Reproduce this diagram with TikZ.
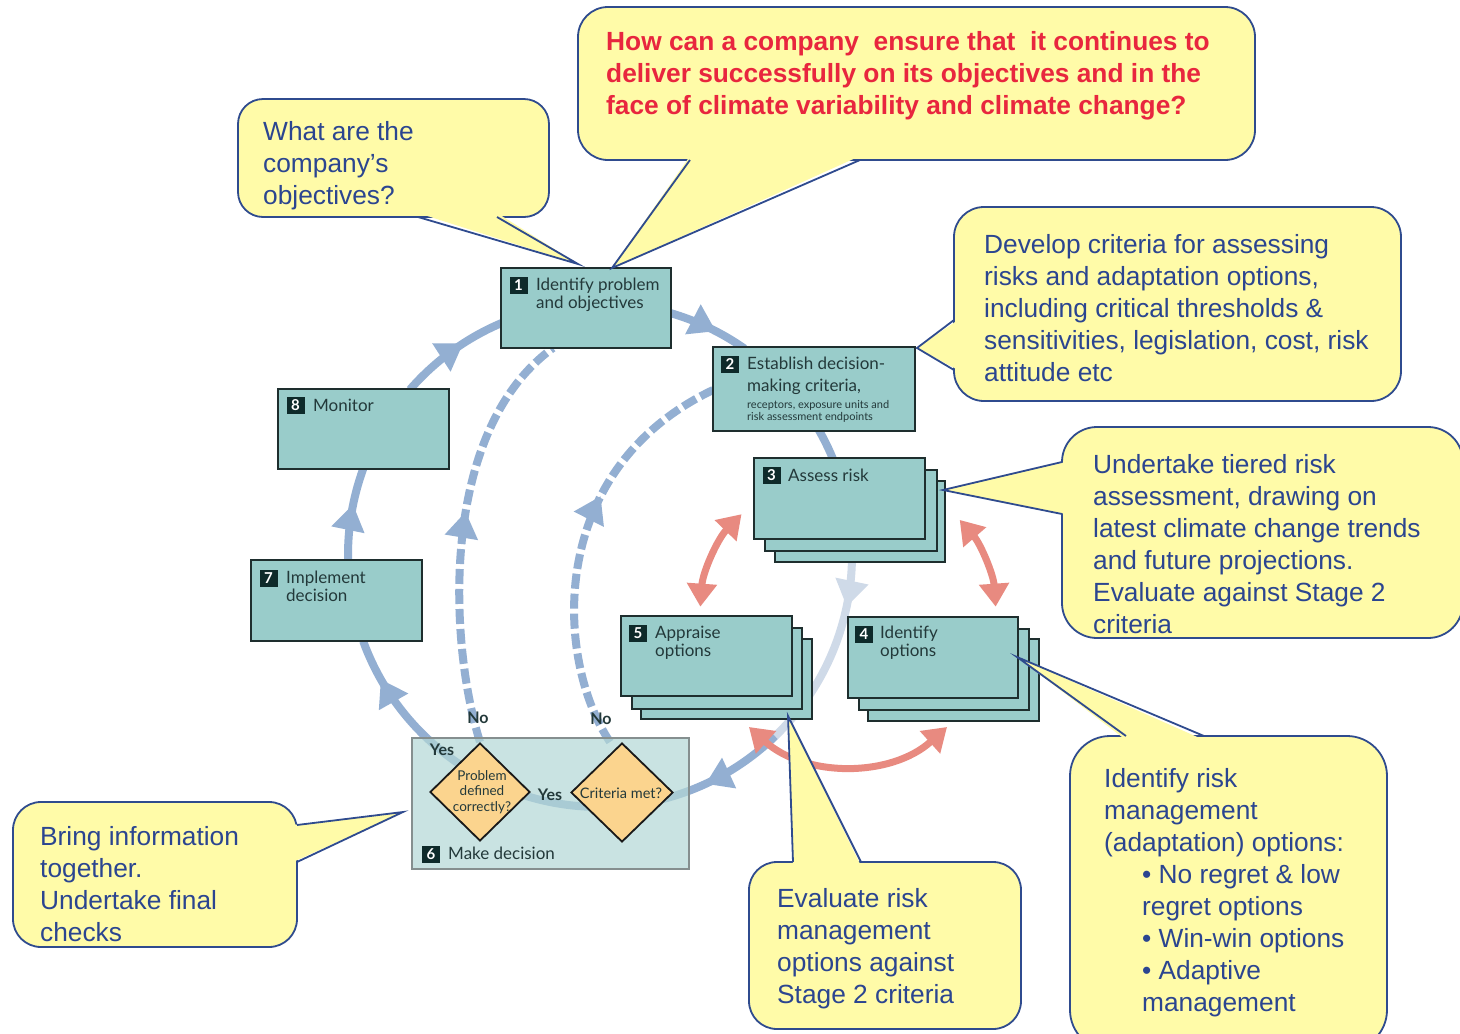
\documentclass[tikz,border=0pt]{standalone}
\usepackage{fontspec}
\setmainfont{Liberation Sans}
\newfontfamily\boxfont{Lato}
\usetikzlibrary{arrows.meta,decorations.markings,shapes.geometric,calc}
\definecolor{tealbox}{HTML}{99CCCA}
\definecolor{boxline}{HTML}{1E2E2E}
\definecolor{numbg}{HTML}{0E2A2A}
\definecolor{boxtext}{HTML}{23393A}
\definecolor{sixfill}{HTML}{B3D8D6}
\definecolor{sixline}{HTML}{858F8F}
\definecolor{diafill}{HTML}{FBD48E}
\definecolor{flowblue}{HTML}{93AFD2}
\definecolor{flowlight}{HTML}{CFDAE8}
\definecolor{redflow}{HTML}{E88A80}
\definecolor{cofill}{HTML}{FFFBA8}
\definecolor{coline}{HTML}{2F4B8E}
\definecolor{cotext}{HTML}{2B4590}
\definecolor{redtext}{HTML}{E8263E}
\begin{document}
\begin{tikzpicture}[x=1pt,y=1pt,
  stage/.style={draw=boxline,line width=1.8pt,fill=tealbox,inner sep=0pt},
  numsq/.style={fill=numbg,text=white,font=\boxfont\bfseries\fontsize{15}{15}\selectfont,minimum width=18pt,minimum height=17pt,inner sep=0pt},
  boxtxt/.style={anchor=north west,inner sep=0pt,align=left,text=boxtext,font=\boxfont\fontsize{17}{17.5}\selectfont},
  cotxt/.style={anchor=north west,inner sep=0pt,align=left,text=cotext,font=\fontsize{26.3}{32}\selectfont},
  cobox/.style={fill=cofill,draw=coline,line width=1.8pt},
  coptr/.style={draw=coline,line width=1.8pt,line join=miter},
  flow/.style={draw=flowblue,line width=8pt},
  midarrow/.style={postaction={decorate},decoration={markings,mark=at position #1 with {\arrow{Triangle[length=26pt,width=32pt]}}}},
  redarc/.style={draw=redflow,line width=7pt,{Triangle[length=23pt,width=29pt]}-{Triangle[length=23pt,width=29pt]}},
  dashflow/.style={draw=flowblue,line width=8pt,dash pattern=on 15pt off 5pt},
  declabel/.style={inner sep=0pt,text=boxtext,font=\boxfont\bfseries\fontsize{16}{16}\selectfont},
  diabox/.style={diamond,draw=black!90,line width=1.8pt,fill=diafill,inner sep=0pt}
]
\useasboundingbox (0,0) rectangle (1460,-1034);
\fill[white] (0,0) rectangle (1460,-1034);

% ---------- main cycle (blue arcs) ----------
\coordinate (C) at (600,-555);
\draw[flow,midarrow=0.62] ($(C)+(139:252)$) arc[start angle=139,end angle=113,radius=252];
\draw[flow,midarrow=0.6] ($(C)+(74:252)$) arc[start angle=74,end angle=55,radius=252];
\draw[flow] ($(C)+(30:252)$) arc[start angle=30,end angle=22,radius=252];
\draw[draw=flowlight,line width=8pt,postaction={decorate},decoration={markings,mark=at position 0.24 with {\arrow{Triangle[length=26pt,width=32pt]}}}] ($(C)+(-1:252)$) arc[start angle=-1,end angle=-46,radius=252];
\draw[flow,midarrow=0.22] ($(C)+(-46:252)$) arc[start angle=-46,end angle=-133.5,radius=252];
\draw[flow,midarrow=0.64] ($(C)+(226.5:252)$) arc[start angle=226.5,end angle=200,radius=252];
\draw[flow,midarrow=0.6] ($(C)+(181:252)$) arc[start angle=181,end angle=160,radius=252];

% ---------- dashed "No" loops ----------
\draw[dashflow,midarrow=0.55] (480,-742) .. controls (448,-640) and (440,-430) .. (553,-348);
\draw[dashflow,midarrow=0.62] (610,-742) .. controls (555,-660) and (545,-470) .. (713,-390);

% ---------- inner red cycle ----------
\coordinate (R0) at (848,-617);
\draw[redarc] ($(R0)+(136:148)$) arc[start angle=136,end angle=176,radius=148];
\draw[redarc] ($(R0)+(41:148)$) arc[start angle=41,end angle=4,radius=148];
\draw[redarc] ($(R0)+(228:148)$) arc[start angle=228,end angle=312,radius=148];

% ---------- stage boxes ----------
\node[stage,minimum width=170pt,minimum height=80pt] (b1) at (586,-308) {};
\node[numsq] (n1) at (518.5,-285) {1};
\node[boxtxt] (t1) at (536,-278) {Identify problem\\and objectives};

\node[stage,minimum width=202pt,minimum height=84pt] (b2) at (814,-389) {};
\node[numsq] (n2) at (730,-364) {2};
\node[boxtxt,font=\boxfont\fontsize{17}{22}\selectfont] (t2) at (747,-357) {Establish decision-\\making criteria,};
\node[boxtxt,font=\boxfont\fontsize{11}{12}\selectfont] (t2b) at (747,-400) {receptors, exposure units and\\risk assessment endpoints};

\node[stage,minimum width=170pt,minimum height=81pt] (b3c) at (860,-521.5) {};
\node[stage,minimum width=172pt,minimum height=81pt] (b3b) at (851,-510.5) {};
\node[stage,minimum width=171pt,minimum height=81pt] (b3) at (839.5,-498.5) {};
\node[numsq] (n3) at (771.5,-475) {3};
\node[boxtxt] (t3) at (788,-469) {Assess risk};

\node[stage,minimum width=171pt,minimum height=80pt] (b5c) at (726.5,-679) {};
\node[stage,minimum width=170pt,minimum height=81pt] (b5b) at (717,-668.5) {};
\node[stage,minimum width=171pt,minimum height=80pt] (b5) at (706.5,-656) {};
\node[numsq] (n5) at (638,-633) {5};
\node[boxtxt,font=\boxfont\fontsize{17}{18}\selectfont] (t5) at (655,-626) {Appraise\\options};

\node[stage,minimum width=171pt,minimum height=82pt] (b4c) at (953.5,-680) {};
\node[stage,minimum width=170pt,minimum height=81pt] (b4b) at (944,-669.5) {};
\node[stage,minimum width=170pt,minimum height=81pt] (b4) at (933,-657.5) {};
\node[numsq] (n4) at (864,-634) {4};
\node[boxtxt,font=\boxfont\fontsize{17}{18}\selectfont] (t4) at (880,-626) {Identify\\options};

\node[stage,minimum width=171pt,minimum height=80pt] (b8) at (363.5,-429) {};
\node[numsq] (n8) at (295.5,-405.5) {8};
\node[boxtxt] (t8) at (313,-399) {Monitor};

\node[stage,minimum width=171pt,minimum height=81pt] (b7) at (336.5,-600.5) {};
\node[numsq] (n7) at (268.5,-578) {7};
\node[boxtxt] (t7) at (286,-571) {Implement\\decision};

% ---------- decision box ----------
\node[draw=sixline,line width=1.6pt,fill=sixfill,fill opacity=0.7,minimum width=277pt,minimum height=131pt,inner sep=0pt] (b6) at (550.5,-803.5) {};
\node[diabox,minimum width=100pt,minimum height=98pt] (d1) at (480,-792) {};
\node[diabox,minimum width=102pt,minimum height=99pt] (d2) at (622,-792.5) {};
\node[inner sep=0pt,align=center,text=boxtext,font=\boxfont\fontsize{13.5}{15.5}\selectfont] (d1t) at (482,-792) {Problem\\defined\\correctly?};
\node[inner sep=0pt,text=boxtext,font=\boxfont\fontsize{14.5}{14.5}\selectfont] (d2t) at (621,-793) {Criteria met?};
\node[declabel] (y1) at (442,-750) {Yes};
\node[declabel] (y2) at (550,-795) {Yes};
\node[declabel] (no1) at (478,-718) {No};
\node[declabel] (no2) at (601,-719) {No};
\node[numsq] (n6) at (431,-854) {6};
\node[boxtxt] (t6) at (448,-847) {Make decision};

% ---------- callouts ----------
% red question
\draw[cobox,rounded corners=30pt] (578,-7) rectangle (1255,-160);
\fill[cofill] (690,-156) -- (612,-268) -- (860,-156) -- cycle;
\draw[coptr] (690,-160) -- (612,-268) -- (860,-160);
\node[cotxt,text=redtext,font=\bfseries\fontsize{26.3}{32}\selectfont] (cq) at (606,-31.5) {How can a company\ \ ensure that\ \ it continues to\\deliver successfully on its objectives and in the\\face of climate variability and climate change?};

% objectives
\draw[cobox,rounded corners=25pt] (238,-99) rectangle (549,-217);
\fill[cofill] (418,-213) -- (578,-264) -- (497,-213) -- cycle;
\draw[coptr] (418,-217) -- (578,-264) -- (497,-217);
\node[cotxt] (co) at (263,-121) {What are the\\company’s\\objectives?};

% develop criteria
\draw[cobox,rounded corners=30pt] (954,-207) rectangle (1401,-401);
\fill[cofill] (958,-320) -- (917,-348) -- (958,-370) -- cycle;
\draw[coptr] (954,-320) -- (917,-348) -- (954,-370);
\node[cotxt] (cd) at (984,-234.5) {Develop criteria for assessing\\risks and adaptation options,\\including critical thresholds \&\\sensitivities, legislation, cost, risk\\attitude etc};

% undertake tiered
\draw[cobox,rounded corners=35pt] (1062,-427) rectangle (1463,-638);
\fill[cofill] (1066,-462) -- (943,-490) -- (1066,-514) -- cycle;
\draw[coptr] (1062,-462) -- (943,-490) -- (1062,-514);
\node[cotxt] (cu) at (1093,-454.5) {Undertake tiered risk\\assessment, drawing on\\latest climate change trends\\and future projections.\\Evaluate against Stage 2\\criteria};

% bring information
\draw[cobox,rounded corners=28pt] (13,-802) rectangle (297,-947);
\fill[cofill] (293,-825) -- (403,-812) -- (293,-862) -- cycle;
\draw[coptr] (297,-825) -- (403,-812) -- (297,-862);
\node[cotxt] (cb) at (40,-826.5) {Bring information\\together.\\Undertake final\\checks};

% evaluate
\draw[cobox,rounded corners=28pt] (749,-862) rectangle (1021,-1029);
\fill[cofill] (793,-866) -- (788,-716) -- (861,-866) -- cycle;
\draw[coptr] (793,-862) -- (788,-716) -- (861,-862);
\node[cotxt] (ce) at (777,-888.5) {Evaluate risk\\management\\options against\\Stage 2 criteria};

% identify options
\draw[cobox,rounded corners=40pt] (1070,-736) rectangle (1387,-1050);
\fill[cofill] (1126,-740) -- (1017,-657) -- (1204,-740) -- cycle;
\draw[coptr] (1126,-736) -- (1017,-657) -- (1204,-736);
\node[cotxt] (ci) at (1104,-768.5) {Identify risk\\management\\(adaptation) options:\\\hspace*{38pt}• No regret \& low\\\hspace*{38pt}regret options\\\hspace*{38pt}• Win-win options\\\hspace*{38pt}• Adaptive\\\hspace*{38pt}management};
\end{tikzpicture}
\end{document}
